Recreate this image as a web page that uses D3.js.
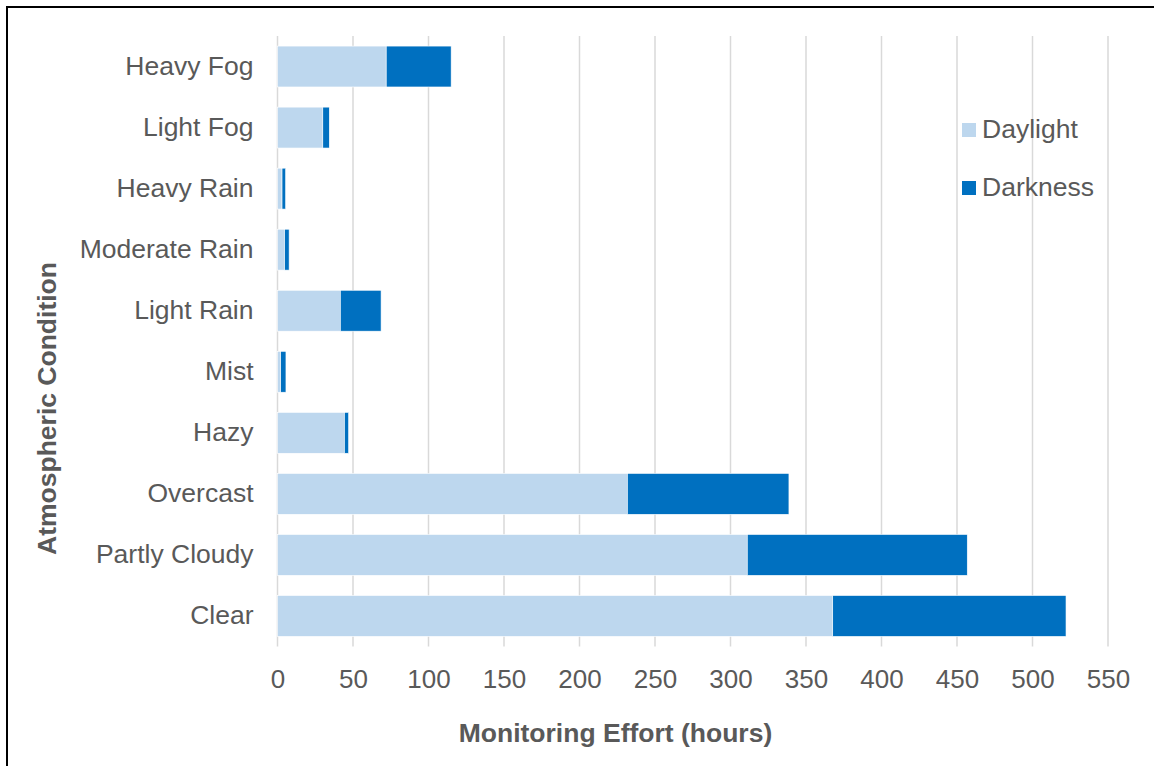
<!DOCTYPE html>
<html>
<head>
<meta charset="utf-8">
<script src="https://cdn.jsdelivr.net/npm/d3@7"></script>
<style>
  html, body { margin: 0; padding: 0; background: #fff; }
  svg { display: block; font-family: "Liberation Sans", Arial, sans-serif; }
</style>
</head>
<body>
<svg id="chart" width="1154" height="766"></svg>
<script>
// Monitoring effort by atmospheric condition, split into daylight and darkness hours
const categories = ["Heavy Fog", "Light Fog", "Heavy Rain", "Moderate Rain", "Light Rain",
                    "Mist", "Hazy", "Overcast", "Partly Cloudy", "Clear"];
const daylight = [72, 30, 3, 4.7, 41.6, 2.1, 44.3, 231.7, 311.1, 367.7];
const darkness = [43, 4.3, 2.4, 3, 27, 3.5, 2.8, 107, 145.7, 154.5];
const seriesNames = ["Daylight", "Darkness"];
const seriesColors = ["#BDD7EE", "#0070C0"];
const xTicks = [0, 50, 100, 150, 200, 250, 300, 350, 400, 450, 500, 550];

const svg = d3.select("#chart");
const margin = { left: 277.5, right: 46, top: 36, bottom: 119.5 };
const W = 1154, H = 766;
const FONT = "Liberation Sans, Arial, sans-serif";
const TEXT_COLOR = "#595959";

// outer frame
svg.append("rect")
  .attr("x", 7).attr("y", 7).attr("width", 1170).attr("height", 780)
  .attr("fill", "none").attr("stroke", "#000").attr("stroke-width", 2);

const x = d3.scaleLinear().domain([0, 550]).range([margin.left, W - margin.right]);
const y = d3.scaleBand().domain(categories)
  .range([margin.top, H - margin.bottom]).paddingInner(0.33).paddingOuter(0.165);

// vertical gridlines
svg.append("g").selectAll("line").data(xTicks).join("line")
  .attr("x1", d => x(d)).attr("x2", d => x(d))
  .attr("y1", margin.top).attr("y2", H - margin.bottom)
  .attr("stroke", "#D9D9D9").attr("stroke-width", 1.5);

// stacked bars
const rows = categories.map((c, i) => ({ cat: c, Daylight: daylight[i], Darkness: darkness[i] }));
const stack = d3.stack().keys(seriesNames)(rows);
svg.append("g").selectAll("g").data(stack).join("g")
  .attr("fill", (d, i) => seriesColors[i])
  .selectAll("rect").data(d => d).join("rect")
  .attr("x", d => x(d[0]))
  .attr("width", d => x(d[1]) - x(d[0]))
  .attr("y", d => y(d.data.cat))
  .attr("height", y.bandwidth())
  .attr("stroke", "#fff").attr("stroke-width", 0.6);

// x axis tick labels
const xAxis = d3.axisBottom(x).tickValues(xTicks).tickSize(0).tickPadding(23);
const gx = svg.append("g").attr("transform", `translate(0,${H - margin.bottom})`).call(xAxis);
gx.select(".domain").remove();
gx.selectAll("text").attr("font-size", 26).attr("fill", TEXT_COLOR).attr("font-family", FONT);

// y axis category labels
const yAxis = d3.axisLeft(y).tickSize(0).tickPadding(24);
const gy = svg.append("g").attr("transform", `translate(${margin.left},0)`).call(yAxis);
gy.select(".domain").remove();
gy.selectAll("text").attr("font-size", 26.5).attr("fill", TEXT_COLOR).attr("font-family", FONT);

// axis titles
svg.append("text")
  .attr("x", 615.5).attr("y", 742)
  .attr("text-anchor", "middle").attr("font-size", 26.5).attr("font-weight", "bold")
  .attr("fill", TEXT_COLOR).text("Monitoring Effort (hours)");
svg.append("text")
  .attr("transform", "translate(56,408.5) rotate(-90)")
  .attr("text-anchor", "middle").attr("font-size", 26.5).attr("font-weight", "bold")
  .attr("fill", TEXT_COLOR).text("Atmospheric Condition");

// legend
const legend = svg.append("g").selectAll("g").data(seriesNames).join("g")
  .attr("transform", (d, i) => `translate(962,${123 + i * 58})`);
legend.append("rect").attr("width", 14).attr("height", 14)
  .attr("fill", (d, i) => seriesColors[i]);
legend.append("text").attr("x", 20).attr("y", 14.5)
  .attr("font-size", 26.5).attr("fill", TEXT_COLOR).text(d => d);
</script>
</body>
</html>
